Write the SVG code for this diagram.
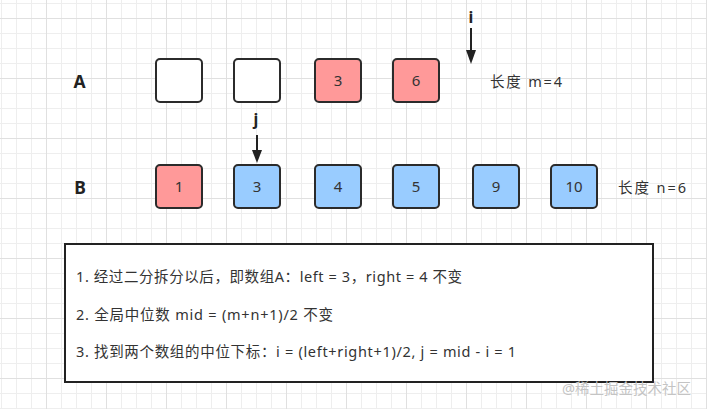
<svg xmlns="http://www.w3.org/2000/svg" width="707" height="409" viewBox="0 0 707 409">
<style>
text{font-family:"Noto Sans","Noto Sans CJK SC",sans-serif;fill:#333}
.cell{stroke:#2b2b2b;stroke-width:2}
.w{fill:#fff}.r{fill:#ff9999}.b{fill:#99ccff}
.num{font-size:15px;text-anchor:middle}
.lbl{font-size:17.5px;font-weight:bold;text-anchor:middle;fill:#222}
.ptr{font-size:16px;font-weight:bold;text-anchor:middle;fill:#222}
.len{font-size:14.5px}
.note{font-size:14.5px}
.wm{font-size:14.5px;fill:#c4c4c4}
.arr{stroke:#222;stroke-width:2;fill:none}
.head{fill:#222}
</style>
<defs>
<pattern id="minor" patternUnits="userSpaceOnUse" x="1" y="3" width="15" height="15">
<path d="M0.5 0V15M0 0.5H15" stroke="#eeeeee" stroke-width="1" fill="none"/>
</pattern>
<pattern id="major" patternUnits="userSpaceOnUse" x="46" y="18" width="60" height="60">
<path d="M0.5 0V60M0 0.5H60" stroke="#e0e0e0" stroke-width="1" fill="none"/>
</pattern>
</defs>
<rect width="707" height="409" fill="#fff"/>
<rect width="707" height="409" fill="url(#minor)"/>
<rect width="707" height="409" fill="url(#major)"/>

<g id="labelA"><text class="lbl" x="79.5" y="87.5">A</text></g>
<g id="labelB"><text class="lbl" x="80" y="193.5">B</text></g>

<g id="a0"><rect class="cell w" x="156" y="59" width="46" height="43" rx="4"/></g>
<g id="a1"><rect class="cell w" x="234" y="59" width="46" height="43" rx="4"/></g>
<g id="a2"><rect class="cell r" x="315" y="59" width="46" height="43" rx="4"/><text class="num" x="338" y="86">3</text></g>
<g id="a3"><rect class="cell r" x="393" y="59" width="46" height="43" rx="4"/><text class="num" x="416" y="86">6</text></g>
<g id="lenA"><text class="len" x="490" y="87" textLength="72" lengthAdjust="spacing">长度 m=4</text></g>

<g id="b0"><rect class="cell r" x="156" y="165" width="46" height="43" rx="4"/><text class="num" x="179" y="192">1</text></g>
<g id="b1"><rect class="cell b" x="234" y="165" width="46" height="43" rx="4"/><text class="num" x="257" y="192">3</text></g>
<g id="b2"><rect class="cell b" x="315" y="165" width="46" height="43" rx="4"/><text class="num" x="338" y="192">4</text></g>
<g id="b3"><rect class="cell b" x="393" y="165" width="46" height="43" rx="4"/><text class="num" x="416" y="192">5</text></g>
<g id="b4"><rect class="cell b" x="473" y="165" width="46" height="43" rx="4"/><text class="num" x="496" y="192">9</text></g>
<g id="b5"><rect class="cell b" x="551" y="165" width="46" height="43" rx="4"/><text class="num" x="574" y="192">10</text></g>
<g id="lenB"><text class="len" x="618" y="193" textLength="68" lengthAdjust="spacing">长度 n=6</text></g>

<g id="ptrI"><text class="ptr" x="471" y="23">i</text></g>
<g id="ptrJ"><text class="ptr" x="256" y="124.5">j</text></g>

<g id="connectors">
<line class="arr" x1="471" y1="28" x2="471" y2="52"/>
<polygon class="head" points="466,50 476,50 471,64"/>
<line class="arr" x1="257" y1="135" x2="257" y2="152"/>
<polygon class="head" points="252,150 262,150 257,163"/>
</g>

<g id="note">
<rect x="65" y="244" width="588" height="138" fill="#fff" stroke="#222" stroke-width="2"/>
<text class="note" x="76" y="282" textLength="386" lengthAdjust="spacing">1. 经过二分拆分以后，即数组A：left = 3，right = 4 不变</text>
<text class="note" x="76" y="320" textLength="257" lengthAdjust="spacing">2. 全局中位数 mid = (m+n+1)/2 不变</text>
<text class="note" x="76" y="357" textLength="440" lengthAdjust="spacing">3. 找到两个数组的中位下标：i = (left+right+1)/2, j = mid - i = 1</text>
</g>
<g id="watermark"><text class="wm" x="562" y="394">@稀土掘金技术社区</text></g>
</svg>
